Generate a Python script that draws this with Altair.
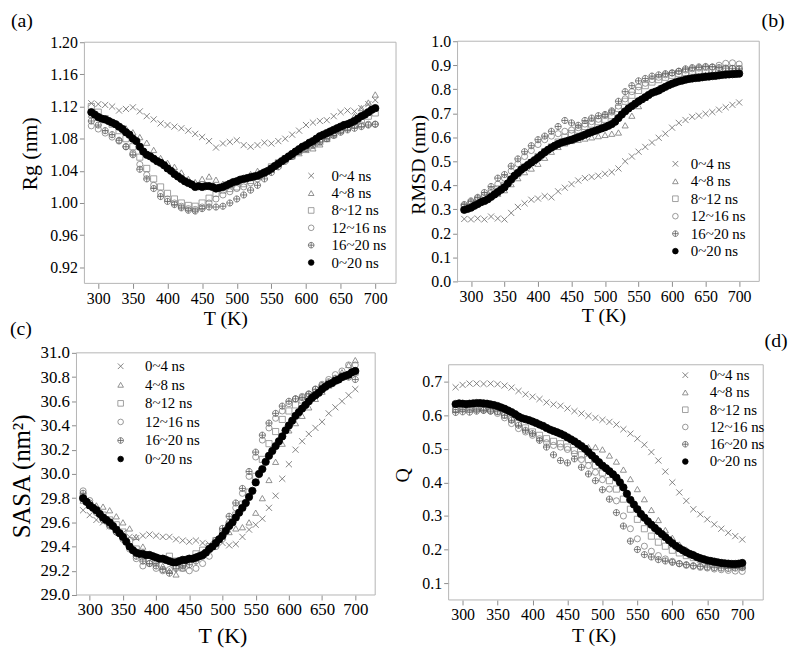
import altair as alt
import pandas as pd

# ---------------- data ----------------
SERIES = ["0~4 ns", "4~8 ns", "8~12 ns", "12~16 ns", "16~20 ns", "0~20 ns"]
T10 = list(range(290, 701, 10))   # window series temperatures
T5 = list(range(290, 701, 5))     # 0~20 ns series temperatures
XTICKS = [300, 350, 400, 450, 500, 550, 600, 650, 700]

# (a) Rg (nm)
RG_04 = [1.124, 1.123, 1.122, 1.120, 1.115, 1.117, 1.119, 1.114, 1.108, 1.104,
         1.099, 1.097, 1.095, 1.093, 1.090, 1.086, 1.082, 1.077, 1.069, 1.074,
         1.076, 1.078, 1.072, 1.070, 1.072, 1.075, 1.074, 1.077, 1.080, 1.085,
         1.090, 1.097, 1.100, 1.102, 1.103, 1.108, 1.113, 1.115, 1.114, 1.118,
         1.123, 1.128]
RG_48 = [1.110, 1.106, 1.103, 1.100, 1.097, 1.093, 1.088, 1.082, 1.075, 1.066,
         1.056, 1.050, 1.045, 1.038, 1.030, 1.026, 1.030, 1.033, 1.029, 1.024,
         1.022, 1.026, 1.030, 1.036, 1.040, 1.040, 1.044, 1.050, 1.055, 1.058,
         1.062, 1.066, 1.068, 1.073, 1.080, 1.087, 1.095, 1.100, 1.108, 1.118,
         1.125, 1.135]
RG_812 = [1.120, 1.113, 1.105, 1.098, 1.090, 1.080, 1.070, 1.057, 1.043, 1.030,
          1.020, 1.012, 1.005, 1.000, 0.997, 0.996, 1.000, 1.006, 1.012, 1.016,
          1.018, 1.020, 1.024, 1.028, 1.033, 1.038, 1.045, 1.050, 1.055, 1.060,
          1.065, 1.068, 1.072, 1.076, 1.080, 1.085, 1.090, 1.094, 1.098, 1.103,
          1.108, 1.112]
RG_1216 = [1.096, 1.092, 1.087, 1.082, 1.077, 1.070, 1.062, 1.048, 1.035, 1.022,
           1.012, 1.005, 1.000, 0.996, 0.993, 0.992, 0.995, 1.000, 1.005, 1.010,
           1.014, 1.018, 1.020, 1.025, 1.030, 1.036, 1.042, 1.048, 1.054, 1.060,
           1.065, 1.070, 1.074, 1.078, 1.082, 1.086, 1.090, 1.093, 1.096, 1.097,
           1.098, 1.098]
RG_1620 = [1.102, 1.097, 1.090, 1.085, 1.078, 1.070, 1.060, 1.042, 1.030, 1.018,
           1.008, 1.002, 0.998, 0.994, 0.991, 0.990, 0.993, 0.995, 0.995, 0.996,
           1.000, 1.005, 1.010, 1.016, 1.022, 1.030, 1.038, 1.045, 1.052, 1.058,
           1.064, 1.068, 1.072, 1.076, 1.080, 1.084, 1.088, 1.091, 1.093, 1.095,
           1.097, 1.098]
RG_ALL = [1.113, 1.110, 1.107, 1.105, 1.104, 1.102, 1.100, 1.098, 1.095, 1.092,
          1.088, 1.085, 1.080, 1.077, 1.070, 1.064, 1.060, 1.058, 1.055, 1.052,
          1.050, 1.047, 1.043, 1.040, 1.036, 1.033, 1.030, 1.027, 1.025, 1.023,
          1.020, 1.021, 1.020, 1.021, 1.021, 1.020, 1.018, 1.019, 1.020, 1.022,
          1.024, 1.026, 1.027, 1.029, 1.030, 1.031, 1.032, 1.033, 1.034, 1.036,
          1.038, 1.040, 1.043, 1.046, 1.049, 1.052, 1.055, 1.058, 1.061, 1.064,
          1.067, 1.070, 1.072, 1.075, 1.077, 1.080, 1.083, 1.085, 1.087, 1.089,
          1.091, 1.093, 1.095, 1.097, 1.098, 1.100, 1.102, 1.105, 1.108, 1.110,
          1.113, 1.116, 1.118]

# (b) RMSD (nm)
RMSD_04 = [0.260, 0.258, 0.262, 0.258, 0.270, 0.262, 0.258, 0.285, 0.310, 0.325,
           0.340, 0.345, 0.355, 0.350, 0.375, 0.390, 0.405, 0.420, 0.430, 0.435,
           0.440, 0.448, 0.455, 0.470, 0.500, 0.520, 0.540, 0.560, 0.578, 0.598,
           0.615, 0.640, 0.660, 0.672, 0.685, 0.690, 0.698, 0.705, 0.715, 0.725,
           0.735, 0.745]
RMSD_48 = [0.300, 0.310, 0.325, 0.335, 0.355, 0.365, 0.380, 0.405, 0.430, 0.455,
           0.470, 0.490, 0.515, 0.540, 0.560, 0.575, 0.585, 0.590, 0.595, 0.600,
           0.605, 0.610, 0.615, 0.620, 0.650, 0.690, 0.730, 0.765, 0.790, 0.805,
           0.815, 0.825, 0.835, 0.840, 0.848, 0.855, 0.860, 0.865, 0.870, 0.872,
           0.875, 0.878]
RMSD_812 = [0.310, 0.320, 0.335, 0.350, 0.365, 0.385, 0.400, 0.425, 0.450, 0.475,
            0.495, 0.520, 0.540, 0.560, 0.580, 0.600, 0.615, 0.630, 0.645, 0.655,
            0.665, 0.675, 0.690, 0.720, 0.750, 0.775, 0.795, 0.815, 0.830, 0.840,
            0.850, 0.858, 0.865, 0.870, 0.875, 0.878, 0.880, 0.882, 0.883, 0.884,
            0.885, 0.885]
RMSD_1216 = [0.315, 0.330, 0.345, 0.360, 0.380, 0.405, 0.430, 0.460, 0.490, 0.520,
             0.545, 0.570, 0.590, 0.605, 0.615, 0.625, 0.630, 0.640, 0.655, 0.665,
             0.675, 0.690, 0.705, 0.730, 0.760, 0.790, 0.810, 0.825, 0.840, 0.850,
             0.860, 0.868, 0.875, 0.880, 0.885, 0.888, 0.890, 0.892, 0.900, 0.908,
             0.910, 0.905]
RMSD_1620 = [0.320, 0.335, 0.350, 0.370, 0.395, 0.430, 0.445, 0.480, 0.510, 0.540,
             0.565, 0.590, 0.605, 0.625, 0.645, 0.670, 0.660, 0.650, 0.670, 0.680,
             0.690, 0.695, 0.710, 0.750, 0.790, 0.815, 0.835, 0.845, 0.855, 0.860,
             0.865, 0.868, 0.875, 0.885, 0.890, 0.893, 0.895, 0.893, 0.890, 0.888,
             0.887, 0.885]
RMSD_ALL = [0.298, 0.302, 0.307, 0.315, 0.322, 0.330, 0.335, 0.342, 0.352, 0.362,
            0.372, 0.382, 0.392, 0.408, 0.425, 0.440, 0.452, 0.465, 0.475, 0.485,
            0.495, 0.505, 0.515, 0.527, 0.538, 0.548, 0.557, 0.565, 0.572, 0.578,
            0.582, 0.586, 0.590, 0.595, 0.600, 0.605, 0.611, 0.617, 0.622, 0.627,
            0.632, 0.637, 0.642, 0.648, 0.655, 0.665, 0.680, 0.695, 0.708, 0.720,
            0.730, 0.740, 0.750, 0.758, 0.767, 0.776, 0.785, 0.790, 0.795, 0.803,
            0.810, 0.817, 0.823, 0.828, 0.833, 0.836, 0.840, 0.843, 0.845, 0.847,
            0.848, 0.850, 0.852, 0.853, 0.855, 0.856, 0.858, 0.860, 0.861, 0.862,
            0.863, 0.864, 0.865]

# (c) SASA (nm^2)
SASA_04 = [29.70, 29.66, 29.62, 29.60, 29.57, 29.54, 29.51, 29.48, 29.47, 29.49,
           29.50, 29.49, 29.48, 29.48, 29.46, 29.45, 29.44, 29.45, 29.43, 29.42,
           29.42, 29.43, 29.41, 29.42, 29.48, 29.54, 29.58, 29.63, 29.72, 29.82,
           29.96, 30.08, 30.20, 30.27, 30.33, 30.38, 30.43, 30.50, 30.55, 30.60,
           30.65, 30.70]
SASA_48 = [29.78, 29.76, 29.74, 29.73, 29.70, 29.65, 29.60, 29.55, 29.48, 29.40,
           29.33, 29.28, 29.24, 29.20, 29.17, 29.22, 29.30, 29.32, 29.35, 29.38,
           29.42, 29.48, 29.52, 29.55, 29.56, 29.60, 29.68, 29.80, 29.95, 30.10,
           30.25, 30.36, 30.42, 30.48, 30.55, 30.62, 30.68, 30.73, 30.78, 30.84,
           30.90, 30.94]
SASA_812 = [29.80, 29.74, 29.70, 29.66, 29.62, 29.58, 29.52, 29.45, 29.38, 29.32,
            29.28, 29.28, 29.30, 29.32, 29.28, 29.25, 29.30, 29.34, 29.37, 29.40,
            29.45, 29.52, 29.58, 29.66, 29.75, 29.85, 29.98, 30.12, 30.25, 30.35,
            30.45, 30.52, 30.57, 30.61, 30.64, 30.67, 30.71, 30.74, 30.77, 30.80,
            30.82, 30.84]
SASA_1216 = [29.86, 29.78, 29.70, 29.64, 29.58, 29.52, 29.46, 29.38, 29.30, 29.24,
             29.26, 29.22, 29.20, 29.21, 29.23, 29.22, 29.20, 29.22, 29.26, 29.32,
             29.40, 29.50, 29.60, 29.72, 29.84, 29.98, 30.14, 30.28, 30.38, 30.46,
             30.52, 30.58, 30.62, 30.64, 30.66, 30.70, 30.74, 30.78, 30.82, 30.85,
             30.90, 30.90]
SASA_1620 = [29.84, 29.76, 29.68, 29.62, 29.57, 29.52, 29.48, 29.40, 29.32, 29.28,
             29.26, 29.24, 29.21, 29.18, 29.22, 29.24, 29.25, 29.28, 29.32, 29.38,
             29.45, 29.55, 29.65, 29.76, 29.88, 30.02, 30.18, 30.32, 30.42, 30.50,
             30.56, 30.60, 30.62, 30.63, 30.66, 30.70, 30.73, 30.76, 30.79, 30.81,
             30.80, 30.78]
SASA_ALL = [29.80, 29.77, 29.74, 29.72, 29.70, 29.67, 29.64, 29.62, 29.60, 29.57,
            29.54, 29.51, 29.48, 29.44, 29.40, 29.37, 29.35, 29.34, 29.34, 29.33,
            29.33, 29.32, 29.31, 29.30, 29.30, 29.29, 29.28, 29.27, 29.27, 29.28,
            29.29, 29.29, 29.30, 29.30, 29.31, 29.32, 29.33, 29.35, 29.38, 29.40,
            29.43, 29.46, 29.49, 29.53, 29.57, 29.60, 29.64, 29.68, 29.72, 29.76,
            29.81, 29.86, 29.93, 30.00, 30.04, 30.10, 30.15, 30.19, 30.23, 30.27,
            30.31, 30.36, 30.40, 30.44, 30.48, 30.51, 30.54, 30.57, 30.60, 30.63,
            30.65, 30.67, 30.70, 30.72, 30.74, 30.75, 30.77, 30.78, 30.80, 30.81,
            30.82, 30.84, 30.85]

# (d) Q
Q_04 = [0.683, 0.690, 0.694, 0.694, 0.693, 0.694, 0.692, 0.688, 0.682, 0.672,
        0.662, 0.655, 0.648, 0.638, 0.632, 0.628, 0.620, 0.612, 0.605, 0.598,
        0.592, 0.586, 0.580, 0.572, 0.558, 0.545, 0.530, 0.512, 0.490, 0.465,
        0.432, 0.400, 0.370, 0.345, 0.320, 0.305, 0.290, 0.275, 0.262, 0.250,
        0.240, 0.230]
Q_48 = [0.625, 0.625, 0.626, 0.625, 0.624, 0.624, 0.623, 0.618, 0.610, 0.600,
        0.590, 0.583, 0.575, 0.565, 0.555, 0.545, 0.532, 0.522, 0.512, 0.505,
        0.505, 0.498, 0.480, 0.462, 0.438, 0.410, 0.380, 0.350, 0.318, 0.288,
        0.258, 0.235, 0.215, 0.200, 0.188, 0.178, 0.170, 0.165, 0.160, 0.157,
        0.155, 0.152]
Q_812 = [0.620, 0.622, 0.623, 0.622, 0.620, 0.618, 0.612, 0.600, 0.588, 0.575,
         0.562, 0.550, 0.540, 0.530, 0.522, 0.515, 0.505, 0.495, 0.482, 0.468,
         0.450, 0.428, 0.405, 0.380, 0.350, 0.320, 0.290, 0.262, 0.240, 0.222,
         0.210, 0.198, 0.190, 0.182, 0.176, 0.170, 0.166, 0.162, 0.158, 0.155,
         0.152, 0.150]
Q_1216 = [0.615, 0.618, 0.617, 0.616, 0.615, 0.612, 0.605, 0.592, 0.575, 0.560,
          0.550, 0.540, 0.530, 0.518, 0.510, 0.505, 0.498, 0.485, 0.468, 0.450,
          0.430, 0.408, 0.380, 0.345, 0.300, 0.262, 0.232, 0.210, 0.195, 0.182,
          0.172, 0.165, 0.158, 0.153, 0.150, 0.147, 0.145, 0.142, 0.140, 0.138,
          0.136, 0.135]
Q_1620 = [0.608, 0.610, 0.609, 0.612, 0.614, 0.612, 0.610, 0.600, 0.585, 0.570,
          0.555, 0.545, 0.525, 0.505, 0.482, 0.465, 0.458, 0.470, 0.445, 0.425,
          0.405, 0.378, 0.350, 0.310, 0.270, 0.225, 0.200, 0.185, 0.178, 0.170,
          0.166, 0.162, 0.158, 0.155, 0.152, 0.150, 0.148, 0.146, 0.145, 0.144,
          0.145, 0.146]
Q_ALL = [0.633, 0.635, 0.634, 0.633, 0.634, 0.635, 0.636, 0.636, 0.635, 0.634,
         0.632, 0.630, 0.627, 0.623, 0.619, 0.614, 0.609, 0.603, 0.596, 0.591,
         0.588, 0.585, 0.581, 0.577, 0.572, 0.568, 0.562, 0.557, 0.553, 0.549,
         0.545, 0.540, 0.534, 0.528, 0.522, 0.515, 0.508, 0.500, 0.490, 0.480,
         0.470, 0.460, 0.450, 0.442, 0.433, 0.424, 0.414, 0.400, 0.385, 0.366,
         0.348, 0.334, 0.320, 0.306, 0.295, 0.284, 0.274, 0.264, 0.255, 0.246,
         0.237, 0.228, 0.219, 0.211, 0.204, 0.198, 0.192, 0.187, 0.183, 0.178,
         0.174, 0.171, 0.168, 0.166, 0.164, 0.162, 0.160, 0.159, 0.158, 0.157,
         0.157, 0.158, 0.160]

# ---------------- style ----------------
FONT = "Liberation Serif"
W, H = 790, 650
XDOM = [280, 730]
X_PATH = "M-1,-1L1,1M-1,1L1,-1"
OPLUS_PATH = "M-1,0A1,1,0,1,1,1,0A1,1,0,1,1,-1,0ZM-1,0L1,0M0,-1L0,1"
SHAPES = [X_PATH, "triangle-up", "square", "circle", OPLUS_PATH, "circle"]
STROKES = ["#666666", "#777777", "#8a8a8a", "#808080", "#5e5e5e", "#000000"]
FILLS = ["transparent"] * 5 + ["#000000"]
FRAME = "#b4b4b4"
TICK = "#8c8c8c"
WIN_SIZE = 38
ALL_SIZE = 55


def long_windows(windows):
    rows = []
    for name, vals in zip(SERIES[:5], windows):
        assert len(vals) == len(T10), name
        for t, v in zip(T10, vals):
            rows.append({"T": t, "v": v, "s": name})
    return pd.DataFrame(rows)


def long_all(vals):
    assert len(vals) == len(T5)
    return pd.DataFrame({"T": T5, "v": vals, "s": [SERIES[5]] * len(T5)})


def panel(windows, allvals, xr, ydom, yr, yvals, yfmt, ytitle,
          xt, yt, leg, lab_size, xt_size, yt_size):
    xs = alt.Scale(domain=XDOM, range=xr, zero=False, nice=False)
    ys = alt.Scale(domain=ydom, range=yr, zero=False, nice=False)
    x_axis = alt.Axis(orient="bottom", offset=yr[0] - H, values=XTICKS, format="d",
                      domain=False, grid=False, tickSize=5, tickColor=TICK, tickWidth=1,
                      labelFont=FONT, labelFontSize=lab_size, labelColor="#000",
                      labelPadding=2, labelFlush=False, labelOverlap=False,
                      title="T (K)", titleFont=FONT, titleFontSize=xt_size,
                      titleFontWeight="normal", titleColor="#000",
                      titleX=xt[0], titleY=xt[1], titleAlign="center",
                      titleBaseline="middle", titleAngle=0)
    y_axis = alt.Axis(orient="left", offset=-xr[0], values=yvals, format=yfmt,
                      domain=False, grid=False, tickSize=5, tickColor=TICK, tickWidth=1,
                      labelFont=FONT, labelFontSize=lab_size, labelColor="#000",
                      labelPadding=2, labelFlush=False, labelOverlap=False,
                      title=ytitle, titleFont=FONT, titleFontSize=yt_size,
                      titleFontWeight="normal", titleColor="#000",
                      titleX=yt[0], titleY=yt[1], titleAlign="center",
                      titleBaseline="middle", titleAngle=270)
    lg = alt.Legend(orient="none", legendX=leg[0], legendY=leg[1], title=None,
                    labelFont=FONT, labelFontSize=15, labelColor="#000",
                    symbolSize=32, symbolStrokeWidth=0.8, rowPadding=leg[2],
                    labelOffset=leg[3], padding=0,
                    labelExpr=leg[4])
    shape = alt.Shape("s:N", scale=alt.Scale(domain=SERIES, range=SHAPES), legend=lg)
    stroke = alt.Stroke("s:N", scale=alt.Scale(domain=SERIES, range=STROKES), legend=lg)
    fill = alt.Fill("s:N", scale=alt.Scale(domain=SERIES, range=FILLS), legend=lg)

    frame_df = pd.DataFrame({"x0": [XDOM[0]], "x1": [XDOM[1]],
                             "y0": [ydom[0]], "y1": [ydom[1]]})
    frame = alt.Chart(frame_df).mark_rect(fill="transparent", stroke=FRAME,
                                          strokeWidth=1).encode(
        x=alt.X("x0:Q", scale=xs, axis=x_axis), x2="x1:Q",
        y=alt.Y("y0:Q", scale=ys, axis=y_axis), y2="y1:Q")
    win = alt.Chart(long_windows(windows)).mark_point(
        opacity=1, strokeWidth=0.8, size=WIN_SIZE).encode(
        x=alt.X("T:Q", scale=xs, axis=x_axis),
        y=alt.Y("v:Q", scale=ys, axis=y_axis),
        shape=shape, stroke=stroke, fill=fill)
    black = alt.Chart(long_all(allvals)).mark_point(
        opacity=1, strokeWidth=0.8, size=ALL_SIZE).encode(
        x=alt.X("T:Q", scale=xs, axis=x_axis),
        y=alt.Y("v:Q", scale=ys, axis=y_axis),
        shape=shape, stroke=stroke, fill=fill)
    return alt.layer(frame, win, black)


def tag(text, x, y):
    return alt.Chart(pd.DataFrame({"t": [text]})).mark_text(
        font=FONT, fontSize=20, align="center", baseline="middle", color="#000").encode(
        text="t:N", x=alt.value(x), y=alt.value(y))


INDENT = "datum.label == '0~20 ns' ? '\u00a00~20 ns' : datum.label"
PLAIN = "datum.label"

pa = panel([RG_04, RG_48, RG_812, RG_1216, RG_1620], RG_ALL,
           [77, 391], [0.90, 1.20], [275, 32],
           [0.92, 0.96, 1.00, 1.04, 1.08, 1.12, 1.16, 1.20], ".2f", "Rg (nm)",
           (219, 35), (-55, 144), (298, 159, 1.5, 13, PLAIN), 16, 20, 22)
pb = panel([RMSD_04, RMSD_48, RMSD_812, RMSD_1216, RMSD_1620], RMSD_ALL,
           [453, 757], [0.0, 1.0], [273, 31],
           [0.0, 0.1, 0.2, 0.3, 0.4, 0.5, 0.6, 0.7, 0.8, 0.9, 1.0], ".1f", "RMSD (nm)",
           (600, 34), (-39, 155), (665, 147, 1.6, 8, INDENT), 16, 20, 20)
pc = panel([SASA_04, SASA_48, SASA_812, SASA_1216, SASA_1620], SASA_ALL,
           [69, 370], [29.0, 31.0], [589, 345],
           [29.0, 29.2, 29.4, 29.6, 29.8, 30.0, 30.2, 30.4, 30.6, 30.8, 31.0], ".1f",
           "SASA (nm\u00b2)",
           (216, 41), (-55, 469), (106, 351, 2.7, 17, INDENT), 17, 22, 25)
pd_ = panel([Q_04, Q_48, Q_812, Q_1216, Q_1620], Q_ALL,
            [444, 761], [0.05, 0.75], [594, 357],
            [0.1, 0.2, 0.3, 0.4, 0.5, 0.6, 0.7], ".1f", "Q",
            (590, 36), (-46, 468), (675, 360, 1.4, 17, INDENT), 16, 20, 20)

chart = alt.layer(
    pa, pb, pc, pd_,
    tag("(a)", 14, 11), tag("(b)", 771, 11), tag("(c)", 13, 321), tag("(d)", 774, 333)
).resolve_scale(
    x="independent", y="independent", shape="independent",
    stroke="independent", fill="independent"
).resolve_axis(
    x="independent", y="independent"
).resolve_legend(
    shape="independent", stroke="independent", fill="independent"
).properties(
    width=W, height=H, padding=0,
    autosize=alt.AutoSizeParams(type="none"),
    background="white"
).configure_view(stroke=None)

chart.save("out.html", embed_options={"renderer": "svg", "actions": False})
